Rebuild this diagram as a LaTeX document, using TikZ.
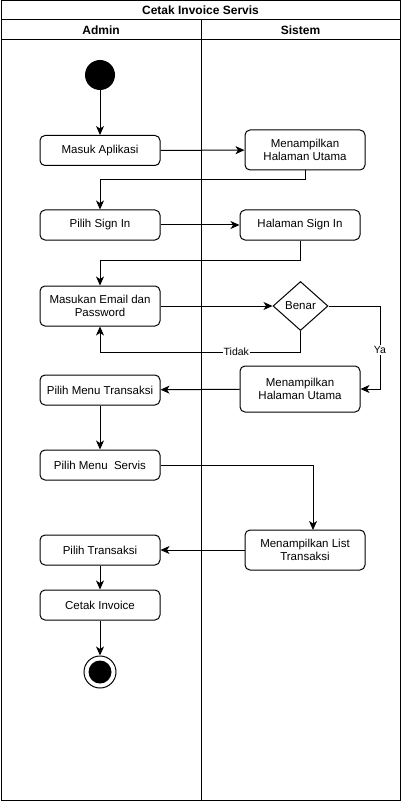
\documentclass[tikz,border=0pt]{standalone}
\usepackage{fontspec}
\setmainfont{Liberation Sans}
\usetikzlibrary{arrows.meta,positioning,shapes.geometric,calc}

\begin{document}
\begin{tikzpicture}[
  x=1pt, y=-1pt, line width=1pt,
  actbox/.style={
    rectangle, rounded corners=5pt,
    minimum width=120pt, minimum height=30pt,
    draw=black, fill=white,
    font=\fontsize{11.5}{13.5}\selectfont,
    align=center
  },
  decide/.style={
    diamond, draw=black, fill=white, aspect=1.1,
    minimum width=55pt, minimum height=49pt, inner sep=0pt,
    font=\fontsize{11.5}{13.5}\selectfont
  },
  conn/.style={-{Stealth[length=9pt,width=8pt,inset=2.5pt]}, draw=black},
  lbl/.style={font=\fontsize{10.5}{12}\selectfont, fill=white, inner sep=1pt}
]
\useasboundingbox (0,0) rectangle (402,802);

% swimlane frame
\draw (1,1) rectangle (400,800);
\draw (1,20) -- (400,20);
\draw (1,40) -- (400,40);
\draw (201,20) -- (201,800);
\node[font=\fontsize{12}{14}\selectfont\bfseries] (title) at (200.5,10.5) {Cetak Invoice Servis};
\node[font=\fontsize{12}{14}\selectfont\bfseries] (admin) at (101,30) {Admin};
\node[font=\fontsize{12}{14}\selectfont\bfseries] (sistem) at (300.5,30) {Sistem};

% start / end
\node[circle, fill=black, minimum size=30pt, inner sep=0pt] (start) at (100,75) {};
\node[circle, draw=black, fill=white, minimum size=32pt, inner sep=0pt] (stop) at (100,672) {};
\fill (stop.center) circle (11.5pt);

% Admin
\node[actbox] (masuk) at (100,150.5) {Masuk Aplikasi};
\node[actbox] (pilihsign) at (100,225) {Pilih Sign In};
\node[actbox, minimum height=40pt] (email) at (100,306) {Masukan Email dan\\Password};
\node[actbox] (menutrans) at (100,390) {Pilih Menu Transaksi};
\node[actbox] (menuservis) at (100,465) {Pilih Menu~~Servis};
\node[actbox] (pilihtrans) at (100,550) {Pilih Transaksi};
\node[actbox] (cetak) at (100,605) {Cetak Invoice};

% Sistem
\node[actbox, minimum height=40pt] (tampil1) at (305,150) {Menampilkan\\Halaman Utama};
\node[actbox] (halsign) at (300,225) {Halaman Sign In};
\node[decide] (benar) at (300.5,306) {Benar};
\node[actbox, minimum height=46pt] (tampil2) at (300,389) {Menampilkan\\Halaman Utama};
\node[actbox, minimum height=40pt] (tampillist) at (305,550) {Menampilkan List\\Transaksi};

% flow
\draw[conn] (start) -- (masuk);
\draw[conn] (masuk) -- (tampil1);
\draw[conn] (tampil1.south) |- (100,180) -- (pilihsign.north);
\draw[conn] (pilihsign) -- (halsign);
\draw[conn] (halsign.south) |- (100,260) -- (email.north);
\draw[conn] (email.east |- benar) -- (benar.west);
\draw[conn] (benar.south) |- (100,352) node[lbl, pos=0.66] {Tidak} -- (email.south);
\draw[conn] (benar.east) -| (380,389) node[lbl, pos=0.765] {Ya} -- (tampil2.east);
\draw[conn] (tampil2) -- (menutrans);
\draw[conn] (menutrans) -- (menuservis);
\draw[conn] (menuservis.east) -| (313,530);
\draw[conn] (tampillist) -- (pilihtrans);
\draw[conn] (pilihtrans) -- (cetak);
\draw[conn] (cetak) -- (stop);
\end{tikzpicture}
\end{document}
